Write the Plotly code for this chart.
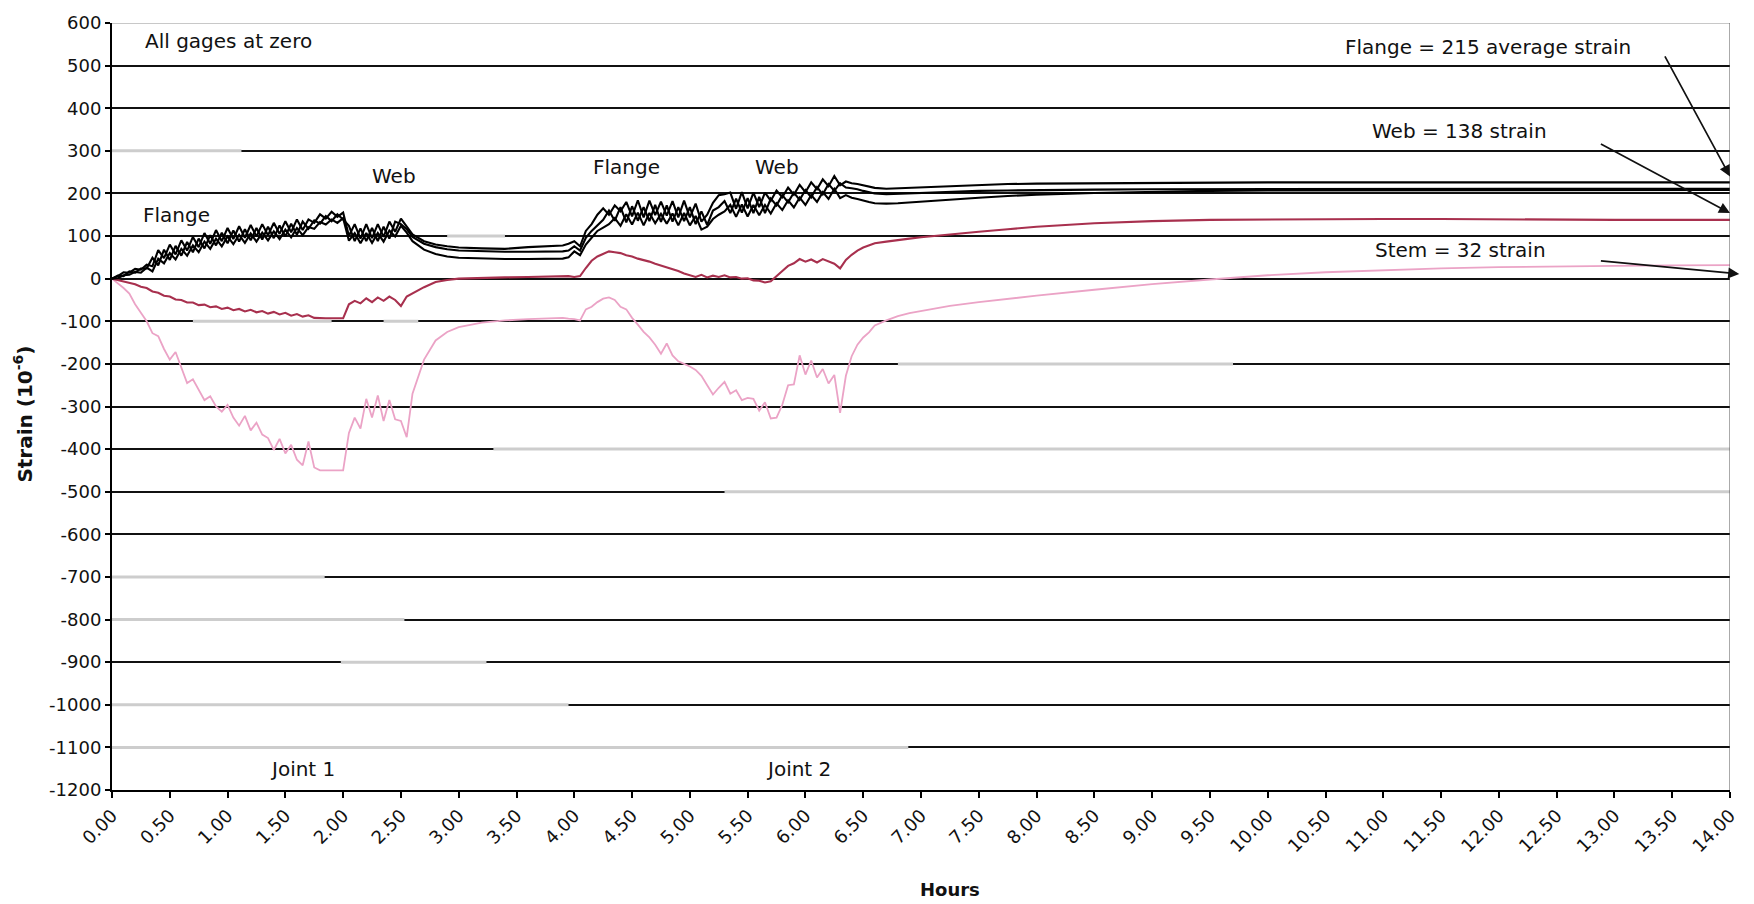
import plotly.graph_objects as go

# Elapsed time (hours) of each logged reading
hours = [
    0.00, 0.05, 0.10, 0.15, 0.20, 0.25, 0.30, 0.35, 0.40, 0.45,
    0.50, 0.55, 0.60, 0.65, 0.70, 0.75, 0.80, 0.85, 0.90, 0.95,
    1.00, 1.05, 1.10, 1.15, 1.20, 1.25, 1.30, 1.35, 1.40, 1.45,
    1.50, 1.55, 1.60, 1.65, 1.70, 1.75, 1.80, 1.85, 1.90, 1.95,
    2.00, 2.05, 2.10, 2.15, 2.20, 2.25, 2.30, 2.35, 2.40, 2.45,
    2.50, 2.55, 2.60,
    2.70, 2.80, 2.90, 3.00, 3.20, 3.40, 3.60, 3.80, 3.90, 3.95,
    4.00, 4.05, 4.10, 4.15, 4.20, 4.25, 4.30, 4.35, 4.40, 4.45,
    4.50, 4.55, 4.60, 4.65, 4.70, 4.75, 4.80, 4.85, 4.90, 4.95,
    5.00, 5.05, 5.10, 5.15, 5.20, 5.25, 5.30, 5.35, 5.40, 5.45,
    5.50, 5.55, 5.60, 5.65, 5.70, 5.75, 5.80, 5.85, 5.90, 5.95,
    6.00, 6.05, 6.10, 6.15, 6.20, 6.25, 6.30, 6.35, 6.40, 6.45,
    6.50, 6.55, 6.60,
    6.70, 6.80, 6.90, 7.00, 7.25, 7.50, 7.75, 8.00, 8.50, 9.00,
    9.50, 10.00, 10.50, 11.00, 11.50, 12.00, 12.50, 13.00, 13.50, 14.00,
]

# Flange gages (microstrain)
flange_1 = [
    0, 6, 15, 14, 23, 21, 33, 29, 67, 48,
    80, 57, 90, 66, 98, 74, 107, 82, 114, 88,
    119, 93, 123, 96, 126, 99, 128, 102, 131, 105,
    135, 109, 139, 114, 139, 131, 151, 141, 157, 145,
    155, 100, 128, 94, 128, 95, 128, 98, 134, 110,
    141, 122, 104,
    88, 80, 76, 73, 71, 70, 74, 76, 78, 82,
    88, 76, 112, 128, 150, 165, 150, 172, 158, 180,
    146, 184, 144, 183, 149, 181, 148, 182, 144, 183,
    144, 176, 134, 150, 178, 196, 198, 202, 164, 203,
    165, 202, 168, 202, 183, 207, 191, 214, 197, 220,
    203, 226, 210, 233, 217, 241, 219, 228, 224, 222,
    219, 216, 213,
    211, 212, 213, 215, 218, 220, 222, 223, 224, 225,
    225, 226, 226, 226, 226, 226, 226, 226, 226, 226,
]
flange_2 = [
    0, 7, 6, 17, 14, 24, 24, 49, 31, 68,
    44, 77, 54, 86, 62, 94, 71, 102, 78, 108,
    83, 113, 87, 116, 90, 119, 92, 122, 95, 125,
    99, 129, 103, 134, 117, 137, 129, 147, 135, 151,
    139, 124, 88, 118, 88, 119, 88, 122, 94, 134,
    128, 116, 98,
    82, 74, 69, 66, 64, 63, 63, 63, 64, 66,
    76, 66, 96, 112, 126, 138, 160, 136, 168, 132,
    170, 136, 168, 135, 173, 133, 172, 134, 168, 135,
    168, 128, 158, 126, 160, 168, 182, 154, 188, 155,
    189, 154, 192, 154, 188, 172, 196, 179, 202, 185,
    208, 191, 215, 198, 222, 206, 224, 214, 212, 210,
    206, 203, 200,
    198, 199, 200, 201, 204, 206, 207, 208, 209, 210,
    210, 211, 211, 211, 211, 211, 211, 211, 211, 211,
]
flange_3 = [
    0, 1, 8, 9, 16, 14, 26, 17, 47, 36,
    60, 45, 70, 54, 78, 62, 87, 70, 94, 76,
    99, 81, 103, 84, 106, 87, 108, 90, 111, 93,
    115, 97, 119, 102, 121, 117, 133, 127, 139, 131,
    142, 89, 107, 83, 107, 84, 107, 87, 113, 99,
    124, 108, 88,
    68, 58, 52, 49, 47, 46, 46, 46, 47, 50,
    64, 55, 80, 96, 112, 120, 128, 142, 124, 151,
    127, 155, 125, 154, 130, 152, 129, 153, 125, 154,
    125, 147, 115, 122, 140, 150, 158, 173, 145, 174,
    146, 173, 149, 173, 153, 177, 161, 184, 167, 190,
    173, 196, 180, 203, 187, 211, 189, 196, 190, 187,
    183, 180, 177,
    176, 177, 179, 181, 185, 190, 194, 197, 201, 204,
    206, 207, 207, 208, 208, 208, 208, 208, 208, 208,
]

# Web gage (microstrain)
web = [
    0, -3, -6, -10, -13, -19, -22, -30, -33, -40,
    -42, -49, -50, -56, -56, -62, -61, -67, -65, -71,
    -68, -74, -71, -77, -73, -79, -76, -82, -78, -84,
    -80, -87, -83, -89, -86, -92, -93, -93, -93, -93,
    -93, -60, -52, -58, -46, -55, -44, -52, -42, -50,
    -64, -42, -34,
    -20, -8, -3, 0, 2, 3, 4, 5, 5, 6,
    4, 6, 25, 42, 52, 58, 64, 62, 60, 55,
    52, 47, 44, 40, 35, 31, 27, 22, 18, 12,
    8, 4, 9, 3, 7, 4, 8, 3, 4, 0,
    1, -4, -5, -9, -6, 5, 18, 30, 36, 46,
    40, 45, 38, 46, 40, 35, 24, 44, 56, 66,
    73, 78, 83,
    87, 91, 94, 97, 104, 110, 116, 122, 130, 135,
    138, 139, 140, 140, 140, 139, 139, 138, 138, 138,
]

# Stem gage (microstrain)
stem = [
    0, -10, -22, -35, -60, -80, -100, -128, -135, -165,
    -190, -172, -210, -245, -236, -262, -285, -276, -300, -312,
    -296, -326, -345, -322, -356, -338, -366, -374, -402, -376,
    -410, -390, -425, -438, -382, -443, -450, -450, -450, -450,
    -450, -362, -326, -352, -282, -326, -274, -334, -285, -330,
    -334, -372, -270,
    -190, -145, -125, -114, -103, -98, -95, -93, -92, -94,
    -95, -98, -72, -66, -55, -47, -44, -50, -66, -72,
    -92, -108, -125, -138, -155, -176, -152, -180, -194, -200,
    -206, -214, -228, -250, -272, -256, -242, -270, -262, -285,
    -280, -282, -310, -290, -328, -326, -296, -250, -248, -180,
    -225, -192, -232, -212, -246, -226, -315, -228, -182, -155,
    -138, -126, -110,
    -98, -88, -81, -76, -64, -55, -47, -40, -26, -13,
    -2, 8, 15, 20, 24, 27, 29, 30, 31, 32,
]

# Axis ticks
x_tick_vals = [0.0, 0.5, 1.0, 1.5, 2.0, 2.5, 3.0, 3.5, 4.0, 4.5, 5.0, 5.5, 6.0, 6.5, 7.0,
               7.5, 8.0, 8.5, 9.0, 9.5, 10.0, 10.5, 11.0, 11.5, 12.0, 12.5, 13.0, 13.5, 14.0]
x_tick_text = ["0.00", "0.50", "1.00", "1.50", "2.00", "2.50", "3.00", "3.50", "4.00", "4.50",
               "5.00", "5.50", "6.00", "6.50", "7.00", "7.50", "8.00", "8.50", "9.00", "9.50",
               "10.00", "10.50", "11.00", "11.50", "12.00", "12.50", "13.00", "13.50", "14.00"]
y_tick_vals = [600, 500, 400, 300, 200, 100, 0, -100, -200, -300, -400, -500,
               -600, -700, -800, -900, -1000, -1100, -1200]
y_tick_text = ["600", "500", "400", "300", "200", "100", "0", "-100", "-200", "-300", "-400", "-500",
               "-600", "-700", "-800", "-900", "-1000", "-1100", "-1200"]

FONT = "DejaVu Sans"
WEB_COLOR = "#a8304e"
STEM_COLOR = "#eba3c6"
FADED_GRID = "#cdcdcd"

# Stretches of the horizontal rules printed faded: (level, from hour, to hour)
faded_rules = [
    (300, 0.0, 1.12),
    (100, 2.9, 3.4),
    (-100, 0.7, 1.9),
    (-100, 2.35, 2.65),
    (-200, 6.8, 9.7),
    (-400, 3.3, 14.0),
    (-500, 5.3, 14.0),
    (-700, 0.0, 1.84),
    (-800, 0.0, 2.53),
    (-900, 1.98, 3.24),
    (-1000, 0.0, 3.95),
    (-1100, 0.0, 6.89),
]

fig = go.Figure()

fig.add_trace(go.Scatter(x=hours, y=stem, mode="lines", name="Stem",
                         line=dict(color=STEM_COLOR, width=1.8)))
fig.add_trace(go.Scatter(x=hours, y=web, mode="lines", name="Web",
                         line=dict(color=WEB_COLOR, width=2.1)))
for series, name in ((flange_1, "Flange 1"), (flange_2, "Flange 2"), (flange_3, "Flange 3")):
    fig.add_trace(go.Scatter(x=hours, y=series, mode="lines", name=name,
                             line=dict(color="#000000", width=2.1)))

text_font = dict(family=FONT, size=20, color="#111111")
labels = [
    (0.27, 557, "All gages at zero", "left"),
    (0.56, 150, "Flange", "center"),
    (2.44, 241, "Web", "center"),
    (4.45, 261, "Flange", "center"),
    (5.75, 263, "Web", "center"),
    (1.65, -1150, "Joint 1", "center"),
    (5.94, -1150, "Joint 2", "center"),
    (11.91, 543, "Flange = 215 average strain", "center"),
    (11.66, 347, "Web = 138 strain", "center"),
    (11.67, 67, "Stem = 32 strain", "center"),
]
annotations = [
    dict(x=x, y=y, xref="x", yref="y", text=t, showarrow=False, xanchor=anc,
         yanchor="middle", font=text_font)
    for x, y, t, anc in labels
]

# Arrows from the summary labels to the final readings
arrows = [
    ((13.43, 525), (14.0, 240)),
    ((12.87, 318), (14.0, 154)),
    ((12.87, 42), (14.08, 11)),
]
for (tx, ty), (hx, hy) in arrows:
    annotations.append(dict(x=hx, y=hy, ax=tx, ay=ty, xref="x", yref="y",
                            axref="x", ayref="y", text="", showarrow=True,
                            arrowhead=2, arrowsize=1.3, arrowwidth=1.7,
                            arrowcolor="#111111", standoff=0, startstandoff=0))

annotations.append(dict(x=-0.064, y=0.49, xref="paper", yref="paper",
                        text="<b>Strain (10<sup>-6</sup>)</b>", showarrow=False,
                        textangle=-90, font=dict(family=FONT, size=20, color="#111111")))
annotations.append(dict(x=0.518, y=-0.146, xref="paper", yref="paper",
                        text="<b>Hours</b>", showarrow=False,
                        font=dict(family=FONT, size=18, color="#111111")))

shapes = [
    dict(type="line", xref="x", yref="y", x0=h0, x1=h1, y0=lvl, y1=lvl,
         line=dict(color=FADED_GRID, width=3), layer="between")
    for lvl, h0, h1 in faded_rules
]
shapes += [
    dict(type="line", xref="x", yref="y", x0=0, x1=14, y0=600, y1=600,
         line=dict(color="#c8c8c8", width=2), layer="above"),
    dict(type="line", xref="x", yref="y", x0=14, x1=14, y0=-1200, y1=600,
         line=dict(color="#555555", width=1), layer="above"),
]

fig.update_layout(
    width=1754, height=904,
    margin=dict(l=112, r=24, t=16, b=114),
    paper_bgcolor="white", plot_bgcolor="white",
    showlegend=False,
    annotations=annotations,
    shapes=shapes,
)
fig.update_xaxes(
    range=[0, 14], tickvals=x_tick_vals, ticktext=x_tick_text, tickangle=-45,
    showgrid=False, zeroline=False, showline=True, linecolor="#000000", linewidth=2,
    ticks="outside", ticklen=6, tickwidth=1.5, tickcolor="#000000",
    tickfont=dict(family=FONT, size=18, color="#111111"),
)
fig.update_yaxes(
    range=[-1200, 600], tickvals=y_tick_vals, ticktext=y_tick_text,
    showgrid=True, gridcolor="#111111", gridwidth=1.6, zeroline=False,
    showline=True, linecolor="#000000", linewidth=2,
    ticks="outside", ticklen=5, tickwidth=1.5, tickcolor="#000000",
    tickfont=dict(family=FONT, size=18, color="#111111"),
)

fig.write_html("out.html")
